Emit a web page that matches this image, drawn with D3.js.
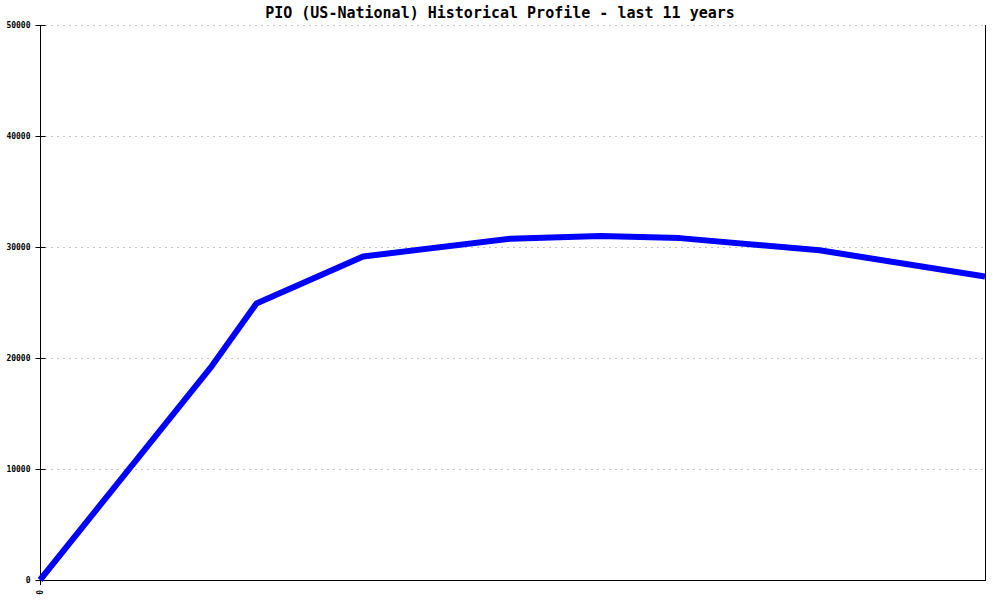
<!DOCTYPE html>
<html>
<head>
<meta charset="utf-8">
<script src="https://cdn.jsdelivr.net/npm/d3@7"></script>
<style>
body { margin: 0; background: #fff; }
svg { display: block; }
</style>
</head>
<body>
<svg id="chart" width="1000" height="600"></svg>
<script>
const title = "PIO (US-National) Historical Profile - last 11 years";
const yTicks = [0, 10000, 20000, 30000, 40000, 50000];
const xTickLabels = ["0"];
// time position in years (0..10) and value
const years = [0, 1.82, 2.29, 3.42, 4.98, 5.93, 6.77, 8.25, 10];
const values = [0, 19300, 24900, 29150, 30750, 31000, 30800, 29700, 27350];

const svg = d3.select("#chart");
const mLeft = 40, mRight = 985, mTop = 25, mBottom = 580;

const x = d3.scaleLinear().domain([0, 10]).range([mLeft, mRight]);
const y = d3.scaleLinear().domain([0, 50000]).range([mBottom, mTop]);

// title
svg.append("text")
  .attr("x", 500).attr("y", 18)
  .attr("text-anchor", "middle")
  .attr("font-family", "DejaVu Sans Mono")
  .attr("font-weight", "bold")
  .attr("font-size", 15)
  .attr("fill", "#000")
  .text(title);

// grid lines
svg.append("g").selectAll("line")
  .data(yTicks.filter(d => d > 0))
  .join("line")
  .attr("x1", mLeft + 5).attr("x2", mRight)
  .attr("y1", d => Math.round(y(d)) + 0.5).attr("y2", d => Math.round(y(d)) + 0.5)
  .attr("stroke", "#c4c4c4")
  .attr("stroke-dasharray", "2,4");

// y axis
const yAxis = d3.axisLeft(y).tickValues(yTicks).tickSize(5).tickFormat(d3.format("d"));
const gy = svg.append("g").attr("transform", `translate(${mLeft + 0.5},0)`).call(yAxis);
gy.select(".domain").remove();
gy.selectAll(".tick line").attr("x2", 5).attr("x1", -5).attr("stroke", "#000");
gy.selectAll(".tick text")
  .attr("x", -10)
  .attr("font-family", "DejaVu Sans Mono")
  .attr("font-weight", "bold")
  .attr("font-size", 8)
  .attr("fill", "#000");

// axes lines
svg.append("line").attr("x1", mLeft + 0.5).attr("x2", mLeft + 0.5).attr("y1", mTop).attr("y2", mBottom + 5).attr("stroke", "#000");
svg.append("line").attr("x1", mRight + 0.5).attr("x2", mRight + 0.5).attr("y1", mTop).attr("y2", mBottom).attr("stroke", "#000");
svg.append("line").attr("x1", mLeft).attr("x2", mRight + 1).attr("y1", mBottom + 0.5).attr("y2", mBottom + 0.5).attr("stroke", "#000");

// x tick label (rotated)
svg.append("g").selectAll("text")
  .data(xTickLabels)
  .join("text")
  .attr("transform", (d, i) => `translate(${x(i) + 3},${mBottom + 10}) rotate(-90)`)
  .attr("text-anchor", "end")
  .attr("font-family", "DejaVu Sans Mono")
  .attr("font-weight", "bold")
  .attr("font-size", 8)
  .attr("fill", "#000")
  .text(d => d);

// line
const line = d3.line().x((d, i) => x(years[i])).y(d => y(d));
svg.append("path")
  .datum(values)
  .attr("d", line)
  .attr("fill", "none")
  .attr("stroke", "#0000ff")
  .attr("stroke-width", 6)
  .attr("stroke-linejoin", "round");
</script>
</body>
</html>
